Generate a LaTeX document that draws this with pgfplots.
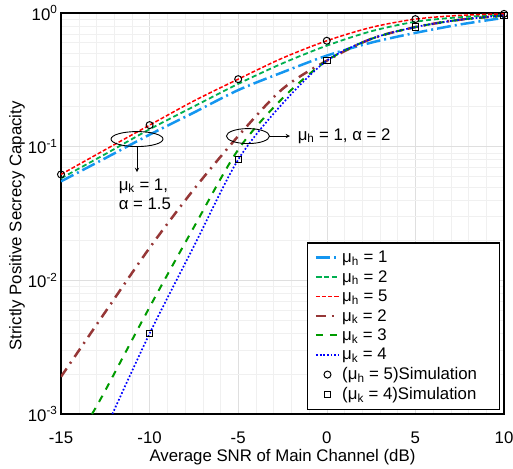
\documentclass[border=0pt]{standalone}
\usepackage{fontspec}
\setmainfont{Liberation Sans}
\usepackage{pgfplots}
\pgfplotsset{compat=1.18}
\definecolor{lblue}{RGB}{20,150,240}
\definecolor{hgreen}{RGB}{0,175,80}
\definecolor{kbrown}{RGB}{150,55,55}
\definecolor{kgreen}{RGB}{0,155,0}
\begin{document}
\begin{tikzpicture}[font=\fontsize{16.8}{19}\selectfont]
\begin{axis}[
  width=443pt, height=401pt, scale only axis,
  xmin=-15, xmax=10, ymode=log, ymin=1e-3, ymax=1,
  xtick={-15,-10,-5,0,5,10}, xticklabels={-15,-10,-5,0,5,10},
  minor x tick num=4,
  ytick={1e-3,1e-2,1e-1,1},
  yticklabels={10\textsuperscript{-3},10\textsuperscript{-2},10\textsuperscript{-1},10\textsuperscript{0}},
  xticklabel style={yshift=-14pt},
  xlabel style={yshift=1pt},
  ylabel style={at={(ticklabel cs:0.469)}, yshift=-4pt},
  grid=both, major grid style={gray!25}, minor grid style={gray!12},
  axis line style={line width=1.5pt}, tick style={draw=none},
  xlabel={Average SNR of Main Channel (dB)},
  ylabel={Strictly Positive Secrecy Capacity},
  legend cell align=left,
  legend image code/.code={\draw[mark repeat=2,mark phase=2] plot coordinates {(0pt,0pt) (11.5pt,0pt) (23pt,0pt)};},
  legend style={at={(0.991,0.01)}, anchor=south east, draw=black, line width=1.2pt,
    font=\fontsize{16.8}{19}\selectfont, row sep=2.3pt, inner xsep=7pt, inner ysep=6pt},
]
\addplot[lblue, line width=2.5pt, dash pattern=on 14pt off 4pt on 2pt off 4pt, smooth] coordinates {
(-15,0.055) (-12.5,0.082) (-10,0.123) (-7.5,0.18) (-5,0.265) (-2.5,0.36) (0,0.48) (2.5,0.60) (5,0.71) (7.5,0.82) (10,0.92)};
\addlegendentry{μ\textsubscript{h} = 1}
\addplot[hgreen, line width=1.8pt, dash pattern=on 5pt off 3pt, smooth] coordinates {
(-15,0.058) (-12.5,0.088) (-10,0.135) (-7.5,0.20) (-5,0.295) (-2.5,0.42) (0,0.57) (2.5,0.73) (5,0.86) (7.5,0.93) (10,0.97)};
\addlegendentry{μ\textsubscript{h} = 2}
\addplot[red, line width=1.5pt, dash pattern=on 4pt off 2pt, smooth] coordinates {
(-15,0.062) (-12.5,0.095) (-10,0.145) (-7.5,0.22) (-5,0.32) (-2.5,0.46) (0,0.62) (2.5,0.78) (5,0.90) (7.5,0.96) (10,0.985)};
\addlegendentry{μ\textsubscript{h} = 5}
\addplot[kbrown, line width=2.5pt, dash pattern=on 10pt off 6pt on 2pt off 6pt, smooth] coordinates {
(-15,0.0019) (-12.5,0.0058) (-10,0.0175) (-7.5,0.048) (-5,0.12) (-2.5,0.27) (0,0.44) (2.5,0.64) (5,0.785) (7.5,0.89) (10,0.955)};
\addlegendentry{μ\textsubscript{k} = 2}
\addplot[kgreen, line width=2pt, dash pattern=on 7pt off 7pt, smooth] coordinates {
(-13.25,0.001) (-12.5,0.0015) (-10,0.0063) (-7.5,0.025) (-5,0.095) (-2.5,0.23) (0,0.44) (2.5,0.64) (5,0.785) (7.5,0.89) (10,0.955)};
\addlegendentry{μ\textsubscript{k} = 3}
\addplot[blue, line width=1.7pt, dotted, smooth] coordinates {
(-12.1,0.001) (-10,0.004) (-7.5,0.018) (-5,0.08) (-2.5,0.21) (0,0.44) (2.5,0.64) (5,0.785) (7.5,0.89) (10,0.96)};
\addlegendentry{μ\textsubscript{k} = 4}
\addplot[only marks, mark=o, mark size=3.5pt, black, line width=1pt] coordinates {
(-15,0.062) (-10,0.145) (-5,0.32) (0,0.62) (5,0.90) (10,0.985)};
\addlegendentry{(μ\textsubscript{h} = 5)Simulation}
\addplot[only marks, mark=square, mark size=3.2pt, black, line width=1pt] coordinates {
(-10,0.004) (-5,0.08) (0,0.44) (5,0.785) (10,0.96)};
\addlegendentry{(μ\textsubscript{k} = 4)Simulation\rule{14pt}{0pt}}
\draw[line width=0.9pt] (axis cs:-10.71,0.114) ellipse [x radius=26pt, y radius=7.5pt];
\draw[line width=0.9pt, -stealth] ([yshift=-7.5pt]axis cs:-10.71,0.114) -- ([yshift=-33pt]axis cs:-10.71,0.114);
\node[anchor=north west, align=left, inner sep=0pt] at (axis cs:-11.75,0.058) {μ\textsubscript{k} = 1,\\α = 1.5};
\draw[line width=0.9pt] (axis cs:-4.45,0.120) ellipse [x radius=21.5pt, y radius=7.5pt];
\draw[line width=0.9pt, -stealth] ([xshift=21.5pt]axis cs:-4.45,0.120) -- ([xshift=42pt]axis cs:-4.45,0.120);
\node[anchor=west, inner sep=0pt] at (axis cs:-1.65,0.120) {μ\textsubscript{h} = 1, α = 2};
\end{axis}
\pgfresetboundingbox
\path ([xshift=-61pt,yshift=-54pt]current axis.south west) rectangle ([xshift=9pt,yshift=13pt]current axis.north east);
\end{tikzpicture}
\end{document}
